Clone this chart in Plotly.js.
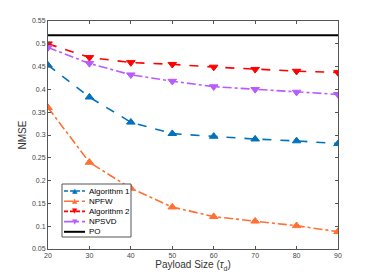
<!DOCTYPE html>
<html><head><meta charset="utf-8">
<script src="https://cdn.plot.ly/plotly-3.0.1.min.js"></script>
<style>html,body{margin:0;padding:0;background:#fff}#chart{width:374px;height:280px}</style>
</head><body><div id="chart"></div>
<script>
const payload = [20, 30, 40, 50, 60, 70, 80, 90];
const algorithm1 = [0.453, 0.383, 0.328, 0.303, 0.297, 0.291, 0.287, 0.281];
const npfw = [0.360, 0.240, 0.183, 0.142, 0.121, 0.111, 0.101, 0.088];
const algorithm2 = [0.500, 0.470, 0.459, 0.455, 0.449, 0.444, 0.440, 0.437];
const npsvd = [0.492, 0.457, 0.432, 0.418, 0.406, 0.400, 0.394, 0.389];
const po = [0.519, 0.519, 0.519, 0.519, 0.519, 0.519, 0.519, 0.519];
const names = ['Algorithm 1', 'NPFW', 'Algorithm 2', 'NPSVD', 'PO'];
const yTicks = [0.05, 0.1, 0.15, 0.2, 0.25, 0.3, 0.35, 0.4, 0.45, 0.5, 0.55];
const xTicks = [20, 30, 40, 50, 60, 70, 80, 90];

const styles = [
  {color: '#0072BD', dash: 'dash', sym: 'triangle-up', glyph: '▲'},
  {color: '#FF7033', dash: 'dashdot', sym: 'triangle-up', glyph: '▲'},
  {color: '#FF0000', dash: 'dash', sym: 'triangle-down', glyph: '▼'},
  {color: '#B75CFF', dash: 'dashdot', sym: 'triangle-down', glyph: '▼'},
  {color: '#000000', dash: 'solid', sym: null, glyph: ''}
];
const series = [algorithm1, npfw, algorithm2, npsvd, po];

const data = series.map((y, i) => {
  const s = styles[i];
  const t = {x: payload, y: y, name: names[i], type: 'scatter',
    mode: s.sym ? 'lines+markers' : 'lines',
    line: {color: s.color, width: s.sym ? 1.6 : 2, dash: s.dash}};
  if (s.sym) t.marker = {symbol: s.sym, size: 7.5, color: s.color, line: {color: s.color, width: 1}};
  return t;
});

// page geometry
const W = 374, H = 280, M = {l: 48, r: 36, t: 21, b: 31};
const PW = W - M.l - M.r, PH = H - M.t - M.b;
const px = x => (x - M.l) / PW;
const py = y => (H - M.b - y) / PH;

// custom legend (compact, like the reference)
const shapes = [{type: 'rect', xref: 'paper', yref: 'paper',
  x0: px(62), x1: px(131), y0: py(237), y1: py(184),
  line: {color: '#555', width: 1}, fillcolor: '#fff', layer: 'above'}];
const annotations = [];
const font = 'Liberation Sans, Arial';
names.forEach((n, i) => {
  const yc = 191 + i * 10.2;
  const s = styles[i];
  shapes.push({type: 'line', xref: 'paper', yref: 'paper', layer: 'above',
    x0: px(64), x1: px(85), y0: py(yc), y1: py(yc),
    line: {color: s.color, width: s.sym ? 1.6 : 2, dash: s.dash === 'dashdot' ? 'dashdot' : (s.dash === 'dash' ? '4px,2px' : 'solid')}});
  if (s.glyph) annotations.push({xref: 'paper', yref: 'paper', x: px(75), y: py(yc),
    text: s.glyph, showarrow: false, xanchor: 'center', yanchor: 'middle',
    font: {family: 'DejaVu Sans', size: 7, color: s.color}});
  annotations.push({xref: 'paper', yref: 'paper', x: px(87), y: py(yc),
    text: n, showarrow: false, xanchor: 'left', yanchor: 'middle',
    font: {family: font, size: 8, color: '#000'}});
});

const axisCommon = {showgrid: false, zeroline: false, showline: true, mirror: 'ticks',
  automargin: false,
  linecolor: '#555', linewidth: 1, ticks: 'inside', ticklen: 3, tickcolor: '#555',
  tickfont: {family: font, size: 7, color: '#444'}};
const layout = {
  width: W, height: H, margin: M,
  paper_bgcolor: '#fff', plot_bgcolor: '#fff',
  showlegend: false,
  shapes: shapes, annotations: annotations,
  xaxis: Object.assign({}, axisCommon, {range: [20, 90], tickvals: xTicks,
    title: {text: 'Payload Size (<i>τ</i><sub>d</sub>)', standoff: 2,
      font: {family: font, size: 10, color: '#333'}}}),
  yaxis: Object.assign({}, axisCommon, {range: [0.05, 0.55], tickvals: yTicks,
    ticktext: yTicks.map(v => String(v)),
    title: {text: 'NMSE', standoff: 3,
      font: {family: font, size: 10, color: '#333'}}})
};
Plotly.newPlot('chart', data, layout, {displayModeBar: false, staticPlot: true});
</script></body></html>
